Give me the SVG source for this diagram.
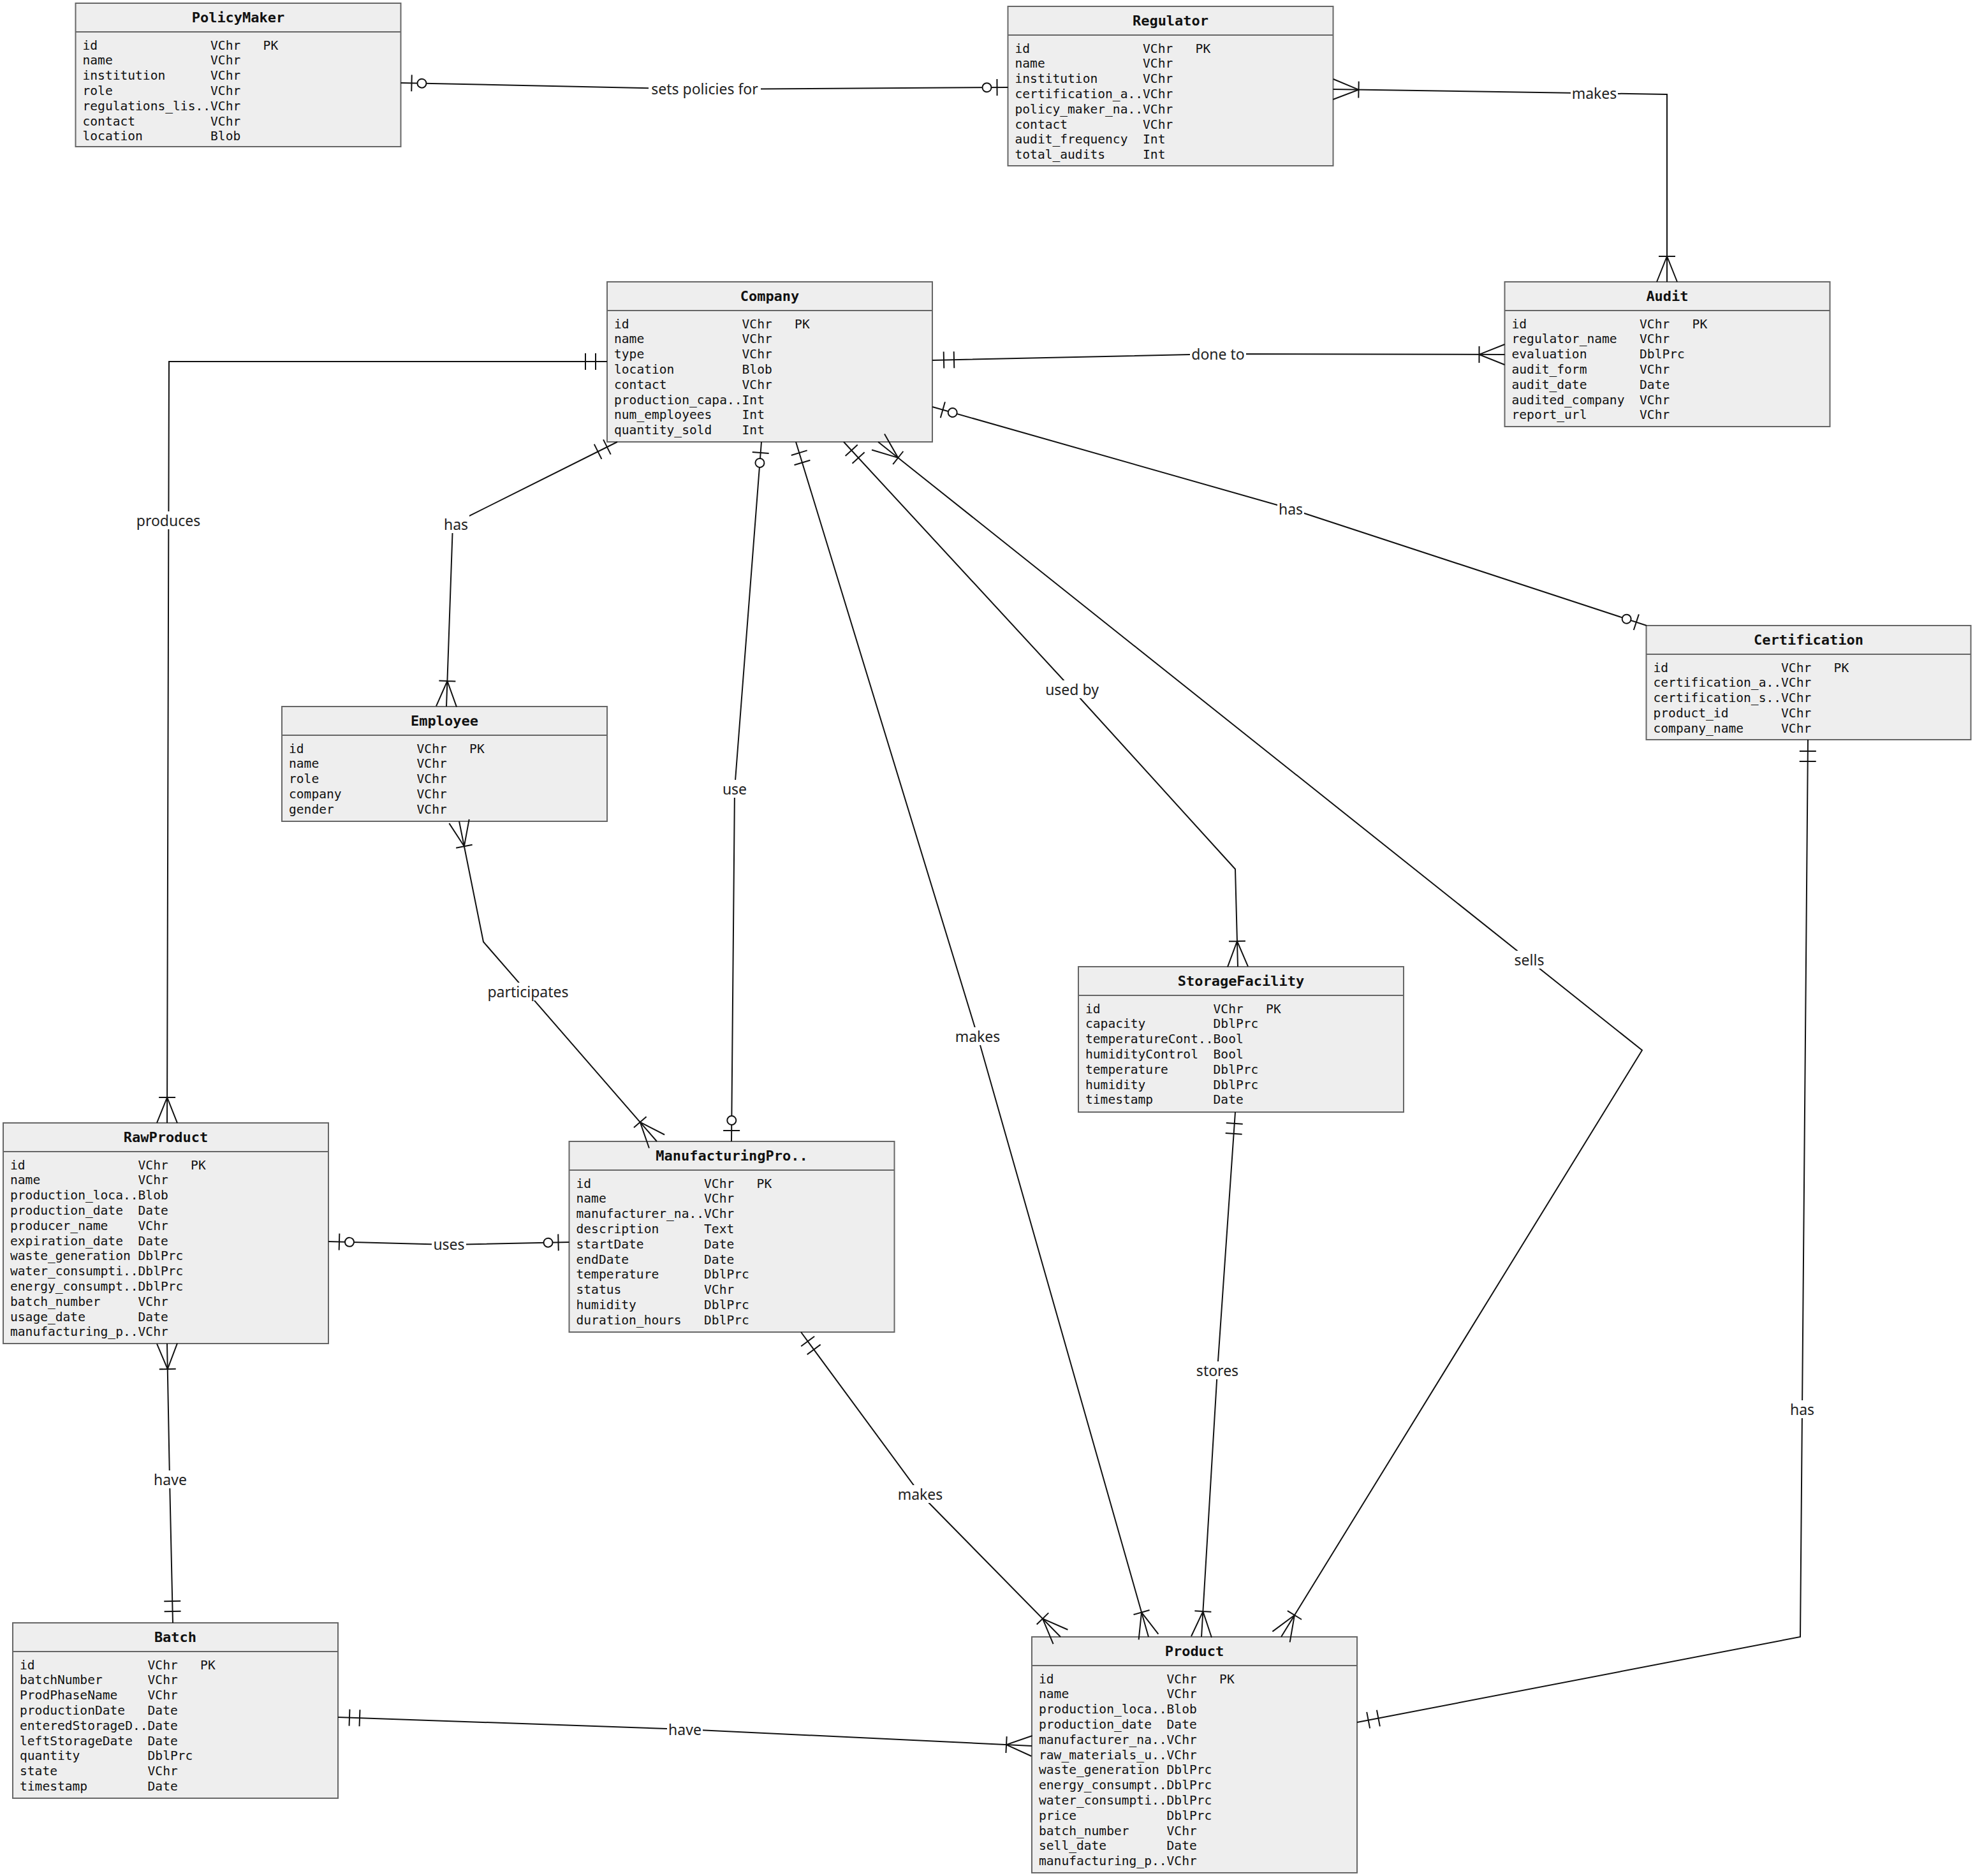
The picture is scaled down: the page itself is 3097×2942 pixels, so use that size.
<svg xmlns="http://www.w3.org/2000/svg" width="3097" height="2942" viewBox="0 0 3097 2942" xml:space="preserve">
<style>
.box{fill:#eeeeee;stroke:#666666;stroke-width:2}
.sep{stroke:#666666;stroke-width:2}
.title{font-family:"DejaVu Sans Mono",monospace;font-weight:bold;font-size:22px;fill:#111;text-anchor:middle}
.row{font-family:"DejaVu Sans Mono",monospace;font-size:19.6px;fill:#111;white-space:pre}
.conn{fill:none;stroke:#111;stroke-width:2}
.lblbg{fill:#ffffff}
.lbl{font-family:"Noto Sans","Open Sans",sans-serif;font-size:23px;fill:#222;text-anchor:middle;dominant-baseline:central}
</style>
<defs>
<marker id="many" markerUnits="userSpaceOnUse" markerWidth="100" markerHeight="100" refX="0" refY="0" orient="auto-start-reverse" overflow="visible">
<path d="M0,-16 L-40,0 L0,16 M-40,-13 L-40,13" fill="none" stroke="#111" stroke-width="2"/>
</marker>
<marker id="one" markerUnits="userSpaceOnUse" markerWidth="100" markerHeight="100" refX="0" refY="0" orient="auto-start-reverse" overflow="visible">
<path d="M-18,-13 L-18,13 M-34,-13 L-34,13" fill="none" stroke="#111" stroke-width="2"/>
</marker>
<marker id="zone" markerUnits="userSpaceOnUse" markerWidth="100" markerHeight="100" refX="0" refY="0" orient="auto-start-reverse" overflow="visible">
<path d="M-17,-13 L-17,13" fill="none" stroke="#111" stroke-width="2"/>
<circle cx="-33" cy="0" r="7" fill="#ffffff" stroke="#111" stroke-width="2"/>
</marker>
</defs>
<rect width="3097" height="2942" fill="#ffffff"/>

<g id="nodes">
<g id="PolicyMaker" transform="translate(118.5,5)">
<rect class="box" width="510" height="225"/><line class="sep" x1="0" y1="45" x2="510" y2="45"/>
<text class="title" x="255" y="30">PolicyMaker</text>
<text class="row" x="11" y="72.5">id               VChr   PK</text>
<text class="row" x="11" y="96.3">name             VChr</text>
<text class="row" x="11" y="120.1">institution      VChr</text>
<text class="row" x="11" y="143.9">role             VChr</text>
<text class="row" x="11" y="167.7">regulations_lis..VChr</text>
<text class="row" x="11" y="191.5">contact          VChr</text>
<text class="row" x="11" y="215.3">location         Blob</text>
</g>
<g id="Regulator" transform="translate(1580.5,10)">
<rect class="box" width="510" height="250"/><line class="sep" x1="0" y1="45" x2="510" y2="45"/>
<text class="title" x="255" y="30">Regulator</text>
<text class="row" x="11" y="72.5">id               VChr   PK</text>
<text class="row" x="11" y="96.3">name             VChr</text>
<text class="row" x="11" y="120.1">institution      VChr</text>
<text class="row" x="11" y="143.9">certification_a..VChr</text>
<text class="row" x="11" y="167.7">policy_maker_na..VChr</text>
<text class="row" x="11" y="191.5">contact          VChr</text>
<text class="row" x="11" y="215.3">audit_frequency  Int</text>
<text class="row" x="11" y="239.1">total_audits     Int</text>
</g>
<g id="Company" transform="translate(952,442)">
<rect class="box" width="510" height="251"/><line class="sep" x1="0" y1="45" x2="510" y2="45"/>
<text class="title" x="255" y="30">Company</text>
<text class="row" x="11" y="72.5">id               VChr   PK</text>
<text class="row" x="11" y="96.3">name             VChr</text>
<text class="row" x="11" y="120.1">type             VChr</text>
<text class="row" x="11" y="143.9">location         Blob</text>
<text class="row" x="11" y="167.7">contact          VChr</text>
<text class="row" x="11" y="191.5">production_capa..Int</text>
<text class="row" x="11" y="215.3">num_employees    Int</text>
<text class="row" x="11" y="239.1">quantity_sold    Int</text>
</g>
<g id="Audit" transform="translate(2359.5,442)">
<rect class="box" width="510" height="227"/><line class="sep" x1="0" y1="45" x2="510" y2="45"/>
<text class="title" x="255" y="30">Audit</text>
<text class="row" x="11" y="72.5">id               VChr   PK</text>
<text class="row" x="11" y="96.3">regulator_name   VChr</text>
<text class="row" x="11" y="120.1">evaluation       DblPrc</text>
<text class="row" x="11" y="143.9">audit_form       VChr</text>
<text class="row" x="11" y="167.7">audit_date       Date</text>
<text class="row" x="11" y="191.5">audited_company  VChr</text>
<text class="row" x="11" y="215.3">report_url       VChr</text>
</g>
<g id="Certification" transform="translate(2581.5,981)">
<rect class="box" width="509" height="179"/><line class="sep" x1="0" y1="45" x2="509" y2="45"/>
<text class="title" x="254.5" y="30">Certification</text>
<text class="row" x="11" y="72.5">id               VChr   PK</text>
<text class="row" x="11" y="96.3">certification_a..VChr</text>
<text class="row" x="11" y="120.1">certification_s..VChr</text>
<text class="row" x="11" y="143.9">product_id       VChr</text>
<text class="row" x="11" y="167.7">company_name     VChr</text>
</g>
<g id="Employee" transform="translate(442,1108)">
<rect class="box" width="510" height="180"/><line class="sep" x1="0" y1="45" x2="510" y2="45"/>
<text class="title" x="255" y="30">Employee</text>
<text class="row" x="11" y="72.5">id               VChr   PK</text>
<text class="row" x="11" y="96.3">name             VChr</text>
<text class="row" x="11" y="120.1">role             VChr</text>
<text class="row" x="11" y="143.9">company          VChr</text>
<text class="row" x="11" y="167.7">gender           VChr</text>
</g>
<g id="RawProduct" transform="translate(5,1761)">
<rect class="box" width="510" height="346"/><line class="sep" x1="0" y1="45" x2="510" y2="45"/>
<text class="title" x="255" y="30">RawProduct</text>
<text class="row" x="11" y="72.5">id               VChr   PK</text>
<text class="row" x="11" y="96.3">name             VChr</text>
<text class="row" x="11" y="120.1">production_loca..Blob</text>
<text class="row" x="11" y="143.9">production_date  Date</text>
<text class="row" x="11" y="167.7">producer_name    VChr</text>
<text class="row" x="11" y="191.5">expiration_date  Date</text>
<text class="row" x="11" y="215.3">waste_generation DblPrc</text>
<text class="row" x="11" y="239.1">water_consumpti..DblPrc</text>
<text class="row" x="11" y="262.9">energy_consumpt..DblPrc</text>
<text class="row" x="11" y="286.7">batch_number     VChr</text>
<text class="row" x="11" y="310.5">usage_date       Date</text>
<text class="row" x="11" y="334.3">manufacturing_p..VChr</text>
</g>
<g id="ManufacturingProcess" transform="translate(892.5,1790)">
<rect class="box" width="510" height="299"/><line class="sep" x1="0" y1="45" x2="510" y2="45"/>
<text class="title" x="255" y="30">ManufacturingPro..</text>
<text class="row" x="11" y="72.5">id               VChr   PK</text>
<text class="row" x="11" y="96.3">name             VChr</text>
<text class="row" x="11" y="120.1">manufacturer_na..VChr</text>
<text class="row" x="11" y="143.9">description      Text</text>
<text class="row" x="11" y="167.7">startDate        Date</text>
<text class="row" x="11" y="191.5">endDate          Date</text>
<text class="row" x="11" y="215.3">temperature      DblPrc</text>
<text class="row" x="11" y="239.1">status           VChr</text>
<text class="row" x="11" y="262.9">humidity         DblPrc</text>
<text class="row" x="11" y="286.7">duration_hours   DblPrc</text>
</g>
<g id="StorageFacility" transform="translate(1691,1516)">
<rect class="box" width="510" height="228"/><line class="sep" x1="0" y1="45" x2="510" y2="45"/>
<text class="title" x="255" y="30">StorageFacility</text>
<text class="row" x="11" y="72.5">id               VChr   PK</text>
<text class="row" x="11" y="96.3">capacity         DblPrc</text>
<text class="row" x="11" y="120.1">temperatureCont..Bool</text>
<text class="row" x="11" y="143.9">humidityControl  Bool</text>
<text class="row" x="11" y="167.7">temperature      DblPrc</text>
<text class="row" x="11" y="191.5">humidity         DblPrc</text>
<text class="row" x="11" y="215.3">timestamp        Date</text>
</g>
<g id="Batch" transform="translate(20,2545)">
<rect class="box" width="510" height="275"/><line class="sep" x1="0" y1="45" x2="510" y2="45"/>
<text class="title" x="255" y="30">Batch</text>
<text class="row" x="11" y="72.5">id               VChr   PK</text>
<text class="row" x="11" y="96.3">batchNumber      VChr</text>
<text class="row" x="11" y="120.1">ProdPhaseName    VChr</text>
<text class="row" x="11" y="143.9">productionDate   Date</text>
<text class="row" x="11" y="167.7">enteredStorageD..Date</text>
<text class="row" x="11" y="191.5">leftStorageDate  Date</text>
<text class="row" x="11" y="215.3">quantity         DblPrc</text>
<text class="row" x="11" y="239.1">state            VChr</text>
<text class="row" x="11" y="262.9">timestamp        Date</text>
</g>
<g id="Product" transform="translate(1618,2567)">
<rect class="box" width="510" height="370"/><line class="sep" x1="0" y1="45" x2="510" y2="45"/>
<text class="title" x="255" y="30">Product</text>
<text class="row" x="11" y="72.5">id               VChr   PK</text>
<text class="row" x="11" y="96.3">name             VChr</text>
<text class="row" x="11" y="120.1">production_loca..Blob</text>
<text class="row" x="11" y="143.9">production_date  Date</text>
<text class="row" x="11" y="167.7">manufacturer_na..VChr</text>
<text class="row" x="11" y="191.5">raw_materials_u..VChr</text>
<text class="row" x="11" y="215.3">waste_generation DblPrc</text>
<text class="row" x="11" y="239.1">energy_consumpt..DblPrc</text>
<text class="row" x="11" y="262.9">water_consumpti..DblPrc</text>
<text class="row" x="11" y="286.7">price            DblPrc</text>
<text class="row" x="11" y="310.5">batch_number     VChr</text>
<text class="row" x="11" y="334.3">sell_date        Date</text>
<text class="row" x="11" y="358.1">manufacturing_p..VChr</text>
</g>
</g>

<g id="connectors">
<g id="c-policymaker-regulator">
<path class="conn" d="M628.5,130 L1105,140 L1580.5,137" marker-start="url(#zone)" marker-end="url(#zone)"/>
<rect class="lblbg" x="1017" y="125" width="176" height="28"/><text class="lbl" x="1105" y="139">sets policies for</text>
</g>
<g id="c-regulator-audit">
<path class="conn" d="M2090.5,140 L2614,148 L2614,442" marker-start="url(#many)" marker-end="url(#many)"/>
<rect class="lblbg" x="2463" y="132" width="74" height="28"/><text class="lbl" x="2500" y="146">makes</text>
</g>
<g id="c-company-rawproduct">
<path class="conn" d="M952,567 L265,567 L262,1761" marker-start="url(#one)" marker-end="url(#many)"/>
<rect class="lblbg" x="212" y="802" width="104" height="28"/><text class="lbl" x="264" y="816">produces</text>
</g>
<g id="c-company-audit">
<path class="conn" d="M1462,565 L1910,555 L2359.5,556" marker-start="url(#one)" marker-end="url(#many)"/>
<rect class="lblbg" x="1866" y="541" width="88" height="28"/><text class="lbl" x="1910" y="555">done to</text>
</g>
<g id="c-company-certification">
<path class="conn" d="M1462,638 L2024,798 L2582,981" marker-start="url(#zone)" marker-end="url(#zone)"/>
<rect class="lblbg" x="2003" y="784" width="42" height="28"/><text class="lbl" x="2024" y="798">has</text>
</g>
<g id="c-company-employee">
<path class="conn" d="M968,693 L710,822 L700,1108" marker-start="url(#one)" marker-end="url(#many)"/>
<rect class="lblbg" x="694" y="808" width="42" height="28"/><text class="lbl" x="715" y="822">has</text>
</g>
<g id="c-company-manufacturing">
<path class="conn" d="M1194,693 L1152,1237 L1147,1790" marker-start="url(#zone)" marker-end="url(#zone)"/>
<rect class="lblbg" x="1131" y="1223" width="42" height="28"/><text class="lbl" x="1152" y="1237">use</text>
</g>
<g id="c-company-product-makes">
<path class="conn" d="M1248,693 L1533,1625 L1801,2567" marker-start="url(#one)" marker-end="url(#many)"/>
<rect class="lblbg" x="1496" y="1611" width="74" height="28"/><text class="lbl" x="1533" y="1625">makes</text>
</g>
<g id="c-company-storage">
<path class="conn" d="M1323,693 L1681,1081 L1937,1363 L1941,1516" marker-start="url(#one)" marker-end="url(#many)"/>
<rect class="lblbg" x="1637" y="1067" width="88" height="28"/><text class="lbl" x="1681" y="1081">used by</text>
</g>
<g id="c-company-product-sells">
<path class="conn" d="M1377,693 L2575,1647 L2009,2567" marker-start="url(#many)" marker-end="url(#many)"/>
<rect class="lblbg" x="2372" y="1491" width="52" height="28"/><text class="lbl" x="2398" y="1505">sells</text>
</g>
<g id="c-employee-manufacturing">
<path class="conn" d="M720,1288 L758,1477 L1030,1790" marker-start="url(#many)" marker-end="url(#many)"/>
<rect class="lblbg" x="762" y="1541" width="132" height="28"/><text class="lbl" x="828" y="1555">participates</text>
</g>
<g id="c-rawproduct-manufacturing">
<path class="conn" d="M515,1947 L704,1952 L892.5,1948" marker-start="url(#zone)" marker-end="url(#zone)"/>
<rect class="lblbg" x="677" y="1938" width="54" height="28"/><text class="lbl" x="704" y="1951">uses</text>
</g>
<g id="c-rawproduct-batch">
<path class="conn" d="M262,2107 L266,2320 L271,2545" marker-start="url(#many)" marker-end="url(#one)"/>
<rect class="lblbg" x="239" y="2306" width="56" height="28"/><text class="lbl" x="267" y="2320">have</text>
</g>
<g id="c-batch-product">
<path class="conn" d="M530,2693 L1074,2712 L1618,2738" marker-start="url(#one)" marker-end="url(#many)"/>
<rect class="lblbg" x="1046" y="2698" width="56" height="28"/><text class="lbl" x="1074" y="2712">have</text>
</g>
<g id="c-manufacturing-product">
<path class="conn" d="M1256,2089 L1443,2343 L1663,2567" marker-start="url(#one)" marker-end="url(#many)"/>
<rect class="lblbg" x="1406" y="2329" width="74" height="28"/><text class="lbl" x="1443" y="2343">makes</text>
</g>
<g id="c-certification-product">
<path class="conn" d="M2835,1160 L2826,2210 L2823,2567 L2128,2701" marker-start="url(#one)" marker-end="url(#one)"/>
<rect class="lblbg" x="2805" y="2196" width="42" height="28"/><text class="lbl" x="2826" y="2210">has</text>
</g>
<g id="c-storage-product">
<path class="conn" d="M1937,1744 L1909,2149 L1884,2567" marker-start="url(#one)" marker-end="url(#many)"/>
<rect class="lblbg" x="1874" y="2135" width="70" height="28"/><text class="lbl" x="1909" y="2149">stores</text>
</g>
</g>
</svg>
